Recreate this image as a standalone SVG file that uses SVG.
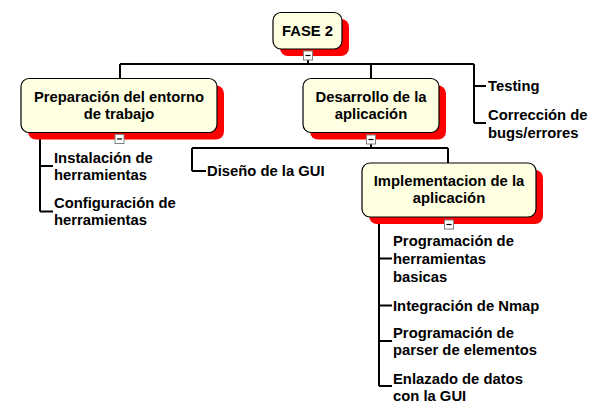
<svg xmlns="http://www.w3.org/2000/svg" width="604" height="413" viewBox="0 0 604 413">
<style>
.box{fill:#FFFFE1;stroke:#000;stroke-width:1.2}
.sh{fill:#FF0000}
.t{font-family:"Liberation Sans",Arial,sans-serif;font-weight:bold;font-size:14.8px;fill:#000}
.c{text-anchor:middle}
.ln{stroke:#000;stroke-width:2;fill:none}
.ic{fill:#fff;stroke:#808080;stroke-width:1}
.im{stroke:#000;stroke-width:1.2}
</style>
<defs>
<g id="icon"><rect class="ic" x="-4.5" y="-4.5" width="9" height="9"/><line class="im" x1="-2.5" y1="0" x2="2.5" y2="0"/></g>
</defs>
<rect x="0" y="0" width="604" height="413" fill="#fff"/>
<g id="connectors">
<path class="ln" d="M308 49V64M120 64H474M120 64V79M371 64V79M474 64V123M474 86H486M474 123H486"/>
<path class="ln" d="M40 132V211.5M40 166H53M40 211.5H53"/>
<path class="ln" d="M371 132V148M192 148H448M192 148V171M192 171H206M448 148V163"/>
<path class="ln" d="M379 217V386M379 258.5H392M379 305.5H392M379 341H392M379 386H392"/>
</g>
<g id="n-fase2">
<rect class="sh" x="280" y="19" width="69" height="37" rx="8"/>
<rect class="box" x="273" y="12.5" width="69" height="36.5" rx="8"/>
<text class="t c" x="307.5" y="36">FASE 2</text>
<use href="#icon" x="308" y="55.5"/>
</g>
<g id="n-preparacion">
<rect class="sh" x="28" y="85.5" width="196" height="54" rx="8"/>
<rect class="box" x="21" y="78.5" width="196" height="54" rx="8"/>
<text class="t c" x="119" y="101.8">Preparación del entorno</text>
<text class="t c" x="119" y="119.4">de trabajo</text>
<use href="#icon" x="119.5" y="139"/>
</g>
<g id="n-desarrollo">
<rect class="sh" x="310" y="85.5" width="136" height="54" rx="8"/>
<rect class="box" x="303" y="78.5" width="136" height="54" rx="8"/>
<text class="t c" x="371" y="101.8">Desarrollo de la</text>
<text class="t c" x="371" y="119.4">aplicación</text>
<use href="#icon" x="371" y="139.5"/>
</g>
<g id="n-implementacion">
<rect class="sh" x="369" y="170" width="174" height="54" rx="8"/>
<rect class="box" x="362" y="163" width="174" height="54" rx="8"/>
<text class="t c" x="449" y="185.8">Implementacion de la</text>
<text class="t c" x="449" y="203.4">aplicación</text>
<use href="#icon" x="449" y="224.5"/>
</g>
<g id="n-instalacion"><text class="t" x="54" y="162.5">Instalación de</text><text class="t" x="54" y="180.2">herramientas</text></g>
<g id="n-configuracion"><text class="t" x="54" y="207.9">Configuración de</text><text class="t" x="54" y="225.3">herramientas</text></g>
<g id="n-testing"><text class="t" x="488" y="91.2">Testing</text></g>
<g id="n-correccion"><text class="t" x="488" y="119.5">Corrección de</text><text class="t" x="488" y="137.9">bugs/errores</text></g>
<g id="n-diseno"><text class="t" x="207" y="176">Diseño de la GUI</text></g>
<g id="n-prog-herr"><text class="t" x="393" y="246.2">Programación de</text><text class="t" x="393" y="264">herramientas</text><text class="t" x="393" y="281.8">basicas</text></g>
<g id="n-nmap"><text class="t" x="393" y="310.9">Integración de Nmap</text></g>
<g id="n-parser"><text class="t" x="393" y="337.5">Programación de</text><text class="t" x="393" y="355.2">parser de elementos</text></g>
<g id="n-enlazado"><text class="t" x="393" y="383.5">Enlazado de datos</text><text class="t" x="393" y="400.9">con la GUI</text></g>
</svg>
